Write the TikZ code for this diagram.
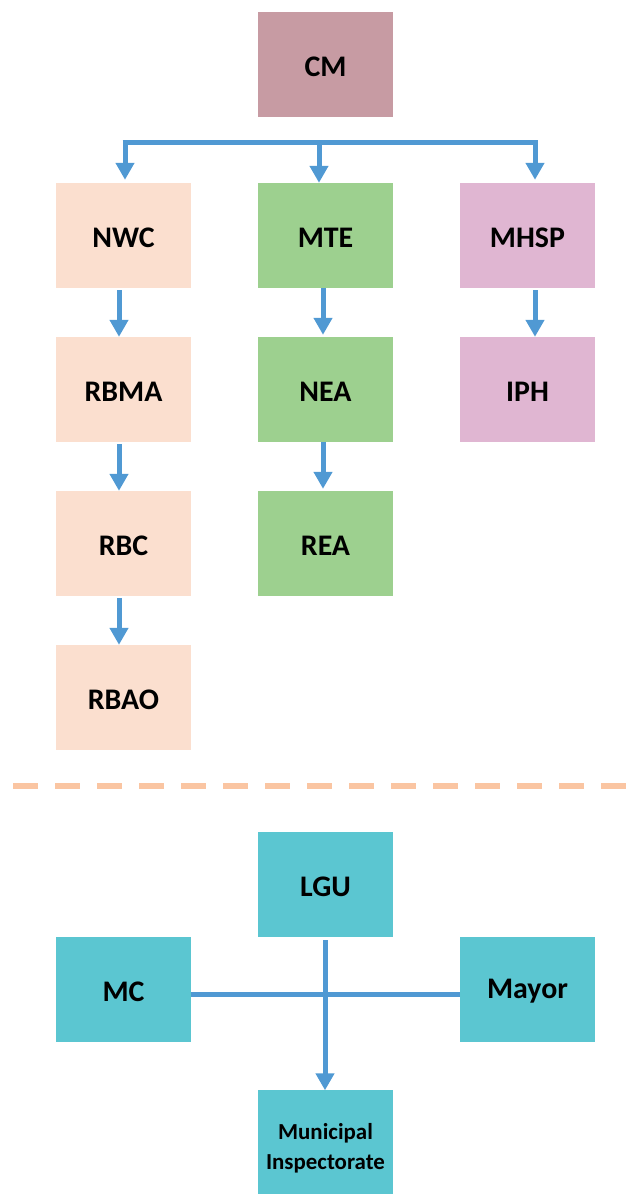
\documentclass[tikz,border=0pt]{standalone}
\usepackage{fontspec}
\setmainfont{Carlito}
\usetikzlibrary{arrows.meta}

\definecolor{cmrose}{HTML}{C79BA3}
\definecolor{peach}{HTML}{FBDFCF}
\definecolor{leaf}{HTML}{9DD08F}
\definecolor{orchid}{HTML}{E0B6D2}
\definecolor{teal}{HTML}{5BC6D1}
\definecolor{linkblue}{HTML}{5099D3}
\definecolor{divider}{HTML}{FAC5A2}

% lower the ink of a label without changing the box it reports
\newcommand{\sinklabel}[2]{\raisebox{-#1}[\height][\depth]{#2}}

\begin{document}
\begin{tikzpicture}[x=1bp,y=-1bp,
  box/.style={minimum width=135bp, minimum height=105bp, inner sep=0pt,
    text=black, font=\fontsize{30}{36}\selectfont\bfseries},
  conn/.style={draw=linkblue, line width=5bp},
  arr/.style={conn, -{Triangle[length=17bp,width=18bp]}},
  divline/.style={draw=divider, line width=6bp, dash pattern=on 24.5bp off 17.5bp}
]
\useasboundingbox (0,0) rectangle (640,1194);

% upper chart
\node[box, fill=cmrose] (cm) at (325.5,64.5) {\sinklabel{2bp}{CM}};

\node[box, fill=peach]  (nwc)  at (123.5,235.5) {\sinklabel{2bp}{NWC}};
\node[box, fill=peach]  (rbma) at (123.5,389.5) {\sinklabel{2bp}{RBMA}};
\node[box, fill=peach]  (rbc)  at (123.5,543.5) {\sinklabel{2bp}{RBC}};
\node[box, fill=peach]  (rbao) at (123.5,697.5) {\sinklabel{2bp}{RBAO}};

\node[box, fill=leaf]   (mte)  at (325.5,235.5) {\sinklabel{2bp}{MTE}};
\node[box, fill=leaf]   (nea)  at (325.5,389.5) {\sinklabel{2bp}{NEA}};
\node[box, fill=leaf]   (rea)  at (325.5,543.5) {\sinklabel{2bp}{REA}};

\node[box, fill=orchid] (mhsp) at (527.5,235.5) {\sinklabel{2bp}{MHSP}};
\node[box, fill=orchid] (iph)  at (527.5,389.5) {\sinklabel{2bp}{IPH}};

% distribution bus under CM
\coordinate (busL) at (125,142);
\coordinate (busM) at (319,142);
\coordinate (busR) at (535,142);
\draw[conn] ([xshift=-2.5bp]busL) -- ([xshift=2.5bp]busR);
\draw[arr, shorten >=3bp] (busL) -- (busL |- nwc.north);
\draw[arr] (busM) -- (busM |- mte.north);
\draw[arr, shorten >=3bp] (busR) -- (busR |- mhsp.north);

% chains within each column
\coordinate (colA) at (119,0);
\coordinate (colB) at (323,0);
\coordinate (colC) at (535,0);
\draw[arr, shorten <=2bp] (colA |- nwc.south)  -- (colA |- rbma.north);
\draw[arr, shorten <=2bp] (colA |- rbma.south) -- (colA |- rbc.north);
\draw[arr, shorten <=2bp] (colA |- rbc.south)  -- (colA |- rbao.north);
\draw[arr] (colB |- mte.south) -- ([yshift=2bp]colB |- nea.north);
\draw[arr] (colB |- nea.south) -- ([yshift=2bp]colB |- rea.north);
\draw[arr, shorten <=2bp] (colC |- mhsp.south) -- (colC |- iph.north);

% divider
\coordinate (divL) at (13,786);
\coordinate (divR) at (630,786);
\draw[divline] (divL) -- (divR);

% lower chart
\node[box, fill=teal] (lgu)   at (325.5,884.5)  {\sinklabel{2bp}{LGU}};
\node[box, fill=teal] (mc)    at (123.5,989.5)  {\sinklabel{2bp}{MC}};
\node[box, fill=teal] (mayor) at (527.5,989.5)  {\sinklabel{2bp}{Mayor}};
\node[box, fill=teal, font=\fontsize{23}{30}\selectfont\bfseries]
  (mi) at (325.5,1142)
  {\sinklabel{6bp}{\parbox{135bp}{\centering Municipal\\Inspectorate}}};

\coordinate (crossX) at (325,0);
\coordinate (crossY) at (0,994);
\draw[conn] (mc.east |- crossY) -- (mayor.west |- crossY);
\draw[arr, shorten <=3bp, shorten >=-1bp] (crossX |- lgu.south) -- (crossX |- mi.north);
\end{tikzpicture}
\end{document}
